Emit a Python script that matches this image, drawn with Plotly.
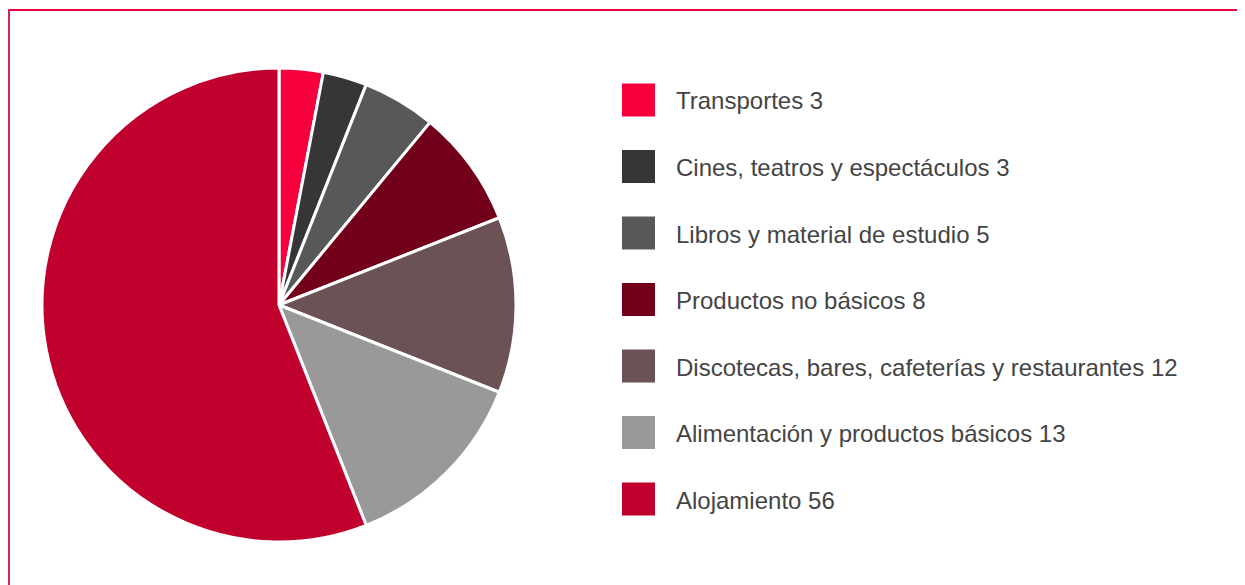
import plotly.graph_objects as go

labels = [
    "Transportes",
    "Cines, teatros y espectáculos",
    "Libros y material de estudio",
    "Productos no básicos",
    "Discotecas, bares, cafeterías y restaurantes",
    "Alimentación y productos básicos",
    "Alojamiento",
]
values = [3, 3, 5, 8, 12, 13, 56]
colors = ["#F5003D", "#363636", "#585858", "#73001A", "#6B5254", "#999999", "#C0002D"]

# the page body has an 8px margin, so the figure is drawn 8px in from the window edge
OFF = 8
W, H = 1245 - OFF, 585 - OFF


def px(x):
  return (x - OFF) / W


def py(y):
  return 1 - (y - OFF) / H


fig = go.Figure(go.Pie(labels=labels,
                       values=values,
                       sort=False,
                       direction="clockwise",
                       rotation=0,
                       textinfo="none",
                       hoverinfo="label+value",
                       marker=dict(colors=colors, line=dict(color="white", width=3)),
                       domain=dict(x=[px(42), px(516)], y=[py(542), py(68)])))

shapes = []
annotations = []
for i, (lab, val, col) in enumerate(zip(labels, values, colors)):
  yc = 100 + i * 66.5
  shapes.append(dict(type="rect", xref="paper", yref="paper",
                     x0=px(622), x1=px(655), y0=py(yc - 16.5), y1=py(yc + 16.5),
                     fillcolor=col, line=dict(width=0)))
  annotations.append(dict(text=f"{lab} {val}", xref="paper", yref="paper",
                          x=px(674), y=py(yc + 1), xanchor="left", yanchor="middle",
                          showarrow=False,
                          font=dict(family="Liberation Sans, Arial", size=24, color="#444444")))

# frame around the chart (top and left edges visible)
shapes.append(dict(type="line", xref="paper", yref="paper",
                   x0=px(9), x1=px(1260), y0=py(10), y1=py(10),
                   line=dict(color="#E8003C", width=2)))
shapes.append(dict(type="line", xref="paper", yref="paper",
                   x0=px(9), x1=px(9), y0=py(9), y1=py(600),
                   line=dict(color="#D0245A", width=2)))

fig.update_layout(width=W, height=H,
                  margin=dict(l=0, r=0, t=0, b=0),
                  paper_bgcolor="white",
                  plot_bgcolor="white",
                  showlegend=False,
                  shapes=shapes,
                  annotations=annotations)

fig.write_html("out.html")
